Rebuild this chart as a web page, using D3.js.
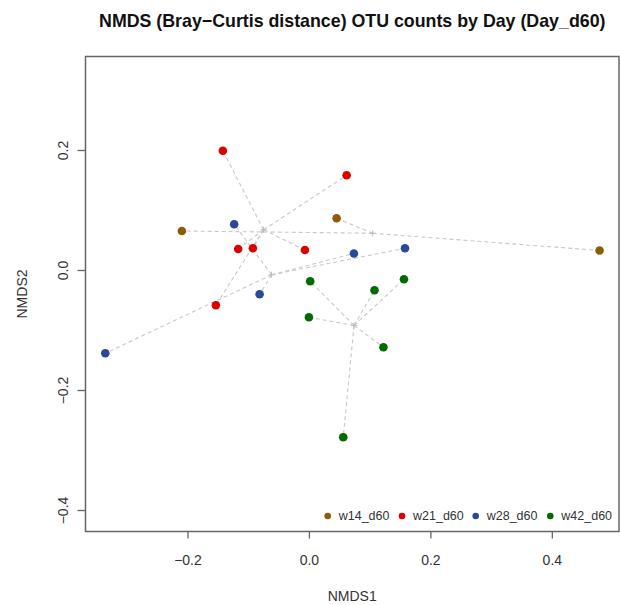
<!DOCTYPE html>
<html><head><meta charset="utf-8">
<script src="https://cdn.jsdelivr.net/npm/d3@7"></script>
<style>body{margin:0;background:#fff}svg{display:block}</style>
</head><body>
<script>
const groups = ["w14_d60","w21_d60","w28_d60","w42_d60"];
const colors = ["#8c5c0a","#dc0000","#2b4896","#006b00"];
const w14 = [[-0.2092,0.0650],[0.0456,0.0862],[0.4786,0.0325]];
const w21 = [[-0.1417,0.1988],[0.0621,0.1578],[-0.1165,0.0350],[-0.0923,0.0362],[-0.0066,0.0333],[-0.1532,-0.0588]];
const w28 = [[-0.1231,0.0762],[-0.0812,-0.0405],[0.0741,0.0275],[0.1582,0.0362],[-0.3353,-0.1388]];
const w42 = [[0.0021,-0.0188],[0.0000,-0.0788],[0.1080,-0.0338],[0.1565,-0.0155],[0.1227,-0.1288],[0.0565,-0.2788]];
const xTicks = [-0.2,0.0,0.2,0.4];
const yTicks = [0.2,0.0,-0.2,-0.4];
const series = [w14,w21,w28,w42];

const W=620,H=605;
const L=85.5,R=619,T=56.5,B=531.5;
const svg=d3.select("body").append("svg").attr("width",W).attr("height",H);
const x=d3.scaleLinear().domain([-0.3679,0.5106]).range([L,R]);
const y=d3.scaleLinear().domain([-0.4358,0.3558]).range([B,T]);
const font="Liberation Sans, Arial, Helvetica, sans-serif";
const fmt=v=>(v<0?"\u2212":"")+Math.abs(v).toFixed(1);

// spider lines
series.forEach((pts,i)=>{
  const cx=d3.mean(pts,d=>d[0]), cy=d3.mean(pts,d=>d[1]);
  svg.append("g").selectAll("line").data(pts).join("line")
    .attr("x1",x(cx)).attr("y1",y(cy)).attr("x2",d=>x(d[0])).attr("y2",d=>y(d[1]))
    .attr("stroke","#c8c8c8").attr("stroke-width",1.1).attr("stroke-dasharray","4,3");
  const g=svg.append("g").attr("stroke","#bbbbbb").attr("stroke-width",1);
  g.append("line").attr("x1",x(cx)-3).attr("x2",x(cx)+3).attr("y1",y(cy)).attr("y2",y(cy));
  g.append("line").attr("x1",x(cx)).attr("x2",x(cx)).attr("y1",y(cy)-3).attr("y2",y(cy)+3);
});
// points
series.forEach((pts,i)=>{
  svg.append("g").selectAll("circle").data(pts).join("circle")
    .attr("cx",d=>x(d[0])).attr("cy",d=>y(d[1])).attr("r",4.3).attr("fill",colors[i]);
});
// box
svg.append("rect").attr("x",L).attr("y",T).attr("width",R-L).attr("height",B-T)
  .attr("fill","none").attr("stroke","#666").attr("stroke-width",1.5);
// axes
const xa=svg.append("g").attr("transform",`translate(0,${B})`)
  .call(d3.axisBottom(x).tickValues(xTicks).tickSize(7).tickPadding(17).tickFormat(fmt));
const ya=svg.append("g").attr("transform",`translate(${L},0)`)
  .call(d3.axisLeft(y).tickValues(yTicks).tickSize(8).tickPadding(12).tickFormat(fmt));
[xa,ya].forEach(a=>{a.select(".domain").remove();
  a.selectAll(".tick line").attr("stroke","#666").attr("stroke-width",1.3);
  a.selectAll("text").attr("fill","#333").style("font-family",font).style("font-size","14px");});
ya.selectAll(".tick").each(function(d){
  d3.select(this).select("text").attr("transform","translate(-22,0) rotate(-90)").attr("x",0).attr("y",0).attr("dy","0.35em").attr("text-anchor","middle");
});
// titles
svg.append("text").attr("x",(L+R)/2).attr("y",27).attr("text-anchor","middle")
  .style("font-family",font).style("font-weight","bold").style("font-size","17.8px").attr("fill","#111")
  .text("NMDS (Bray\u2212Curtis distance) OTU counts by Day (Day_d60)");
svg.append("text").attr("x",(L+R)/2).attr("y",601).attr("text-anchor","middle")
  .style("font-family",font).style("font-size","14px").attr("fill","#333").text("NMDS1");
svg.append("text").attr("transform",`translate(27,${(T+B)/2}) rotate(-90)`).attr("text-anchor","middle")
  .style("font-family",font).style("font-size","14px").attr("fill","#333").text("NMDS2");
// legend
const legX=[327.7,402,475.7,550.3];
const lg=svg.append("g").selectAll("g").data(groups).join("g")
  .attr("transform",(d,i)=>`translate(${legX[i]},516)`);
lg.append("circle").attr("r",3.3).attr("fill",(d,i)=>colors[i]);
lg.append("text").attr("x",11).attr("dy","0.35em").style("font-family",font).style("font-size","12.5px")
  .attr("fill","#333").text(d=>d);
</script>
</body></html>
